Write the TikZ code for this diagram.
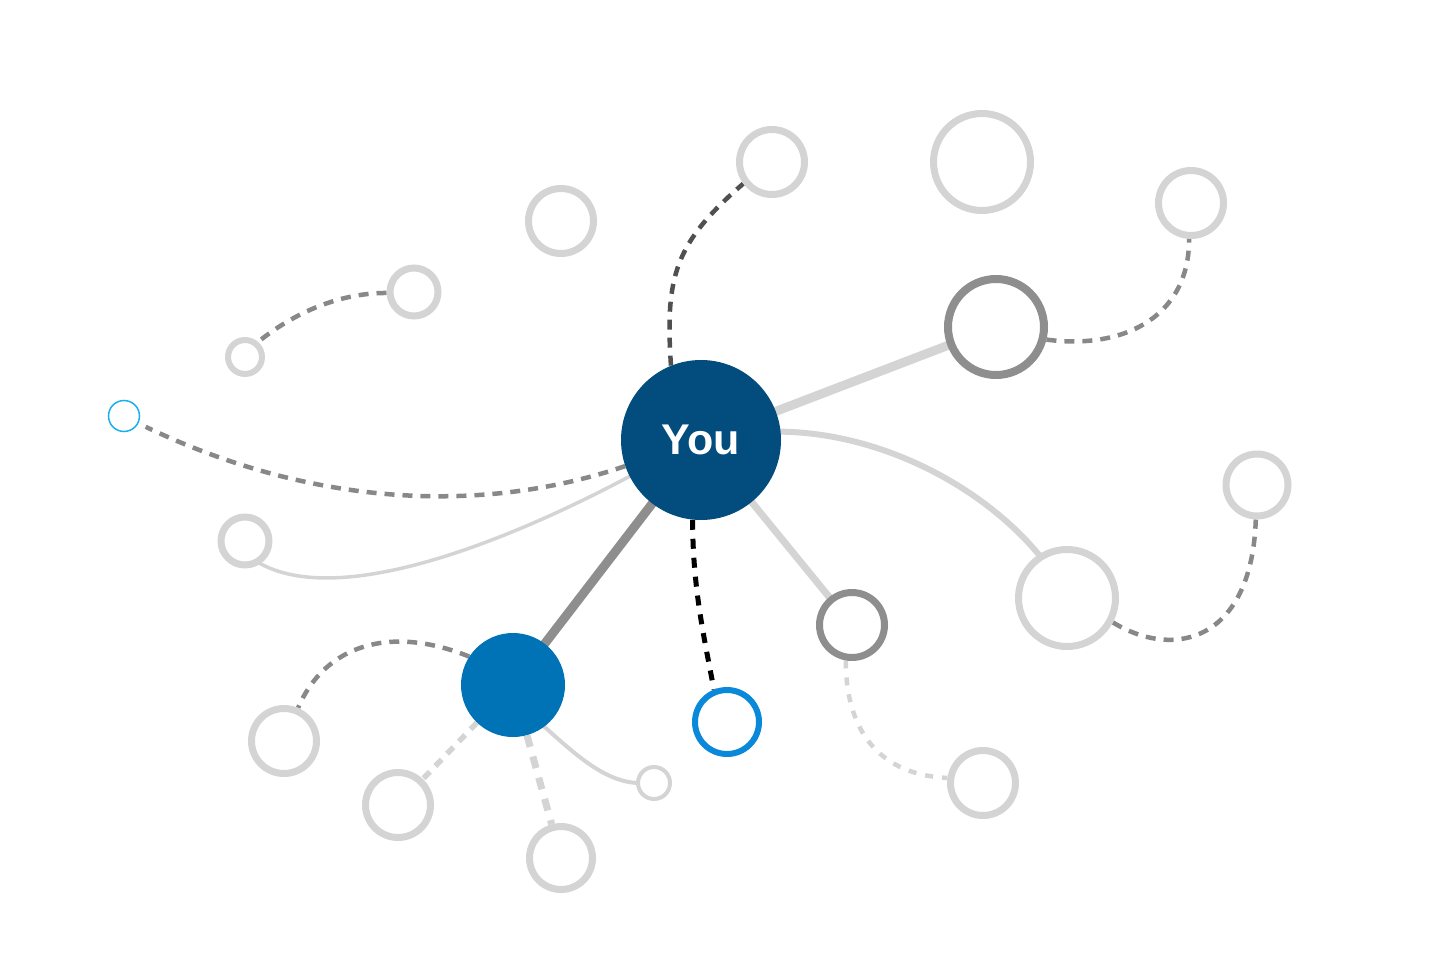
\documentclass[tikz,border=0pt]{standalone}
\usepackage{fontspec}
\setmainfont{Liberation Sans}
\usepackage{tikz}
\usetikzlibrary{backgrounds}

\definecolor{youblue}{RGB}{2,76,126}
\definecolor{nodeblue}{RGB}{0,115,183}
\definecolor{ringblue}{RGB}{10,136,218}
\definecolor{skyblue}{RGB}{27,174,239}
\definecolor{lightgrey}{RGB}{212,212,212}
\definecolor{midgrey}{RGB}{142,142,142}
\definecolor{dashgrey}{RGB}{136,136,136}
\definecolor{darkgrey}{RGB}{80,80,80}

\begin{document}
\begin{tikzpicture}[x=1pt,y=1pt,
    ring/.style={circle, draw=lightgrey, fill=white, line width=7pt, inner sep=0pt},
    solidline/.style={lightgrey, shorten <=-4pt, shorten >=-4pt},
    greydash/.style={dashgrey, line width=4.5pt, dash pattern=on 10pt off 8pt},
    lightdash/.style={lightgrey, line width=4.5pt, dash pattern=on 8pt off 9pt}]

\useasboundingbox (0,0) rectangle (1456,-971);

\node [circle, fill=youblue, minimum size=160pt, inner sep=0pt, text=white,
    font=\bfseries\fontsize{43}{43}\selectfont] (you) at (701,-440) {You};
\node [circle, fill=nodeblue, minimum size=104pt, inner sep=0pt] (blue) at (513,-685) {};

\foreach \n/\x/\y/\d in {a/772/162/65, b/982/162/97, c/1191/203/65, e/561/221/65,
    f/414/292/48, i/245/541/48, j/1257/485/62, k/1067/598/97, n/983/783/65,
    o/284/741/65, p/398/805/65, q/561/858/63}
    \node [ring, minimum size=\d pt] (\n) at (\x,-\y) {};

\node [ring, line width=6pt, minimum size=34pt] (g) at (245,-357) {};
\node [ring, line width=4pt, minimum size=32pt] (r) at (654,-783) {};
\node [ring, draw=midgrey, line width=8pt, minimum size=96pt] (d) at (996,-327) {};
\node [ring, draw=midgrey, minimum size=65pt] (l) at (852,-625) {};
\node [ring, draw=ringblue, line width=6pt, minimum size=64pt] (m) at (727,-722) {};
\node [ring, draw=skyblue, line width=1.5pt, minimum size=31pt] (h) at (124,-416) {};

\begin{scope}[on background layer]
% straight links
\draw [solidline, line width=9pt] (you) -- (d);
\draw [solidline, line width=7pt] (you) -- (l);
\draw [solidline, midgrey, line width=9pt] (you) -- (blue);
\draw [lightdash, line width=5.5pt, dash pattern=on 9pt off 8pt] (blue) -- (p);
\draw [lightdash, line width=7pt, dash pattern=on 12pt off 10pt] (blue) -- (q);

% curved links
\draw [solidline, line width=6pt] (you.6) .. controls +(100,0) and +(-54,67) .. (k.123);
\draw [solidline, line width=3.5pt] (you.207) .. controls +(-110,-59) and +(80,-48) .. (i.304);
\draw [solidline, line width=4pt] (blue.307) .. controls +(31,-28) and +(-30,0) .. (r.180);
\draw [black, line width=5pt, dash pattern=on 10pt off 9pt] (you.264) .. controls +(0,-70) and +(-9,49) .. (m.112);
\draw [greydash, darkgrey] (you.112) .. controls +(-6,90) and +(-68,-59) .. (a.217);
\draw [greydash, shorten >=8pt] (you.199) .. controls +(-135,-46) and +(182,-87) .. (h.333);
\draw [greydash] (f.182) .. controls +(-46,0) and +(37,30) .. (g.49);
\draw [greydash] (d.346) .. controls +(73,-10) and +(0,-81) .. (c.267);
\draw [greydash] (k.332) .. controls +(62,-38) and +(-4,-121) .. (j.268);
\draw [greydash] (blue.147) .. controls +(-79,32) and +(27,63) .. (o.67);
\draw [lightdash] (l.260) .. controls +(0,-60) and +(-77,4) .. (n.172);
\end{scope}

\end{tikzpicture}
\end{document}
